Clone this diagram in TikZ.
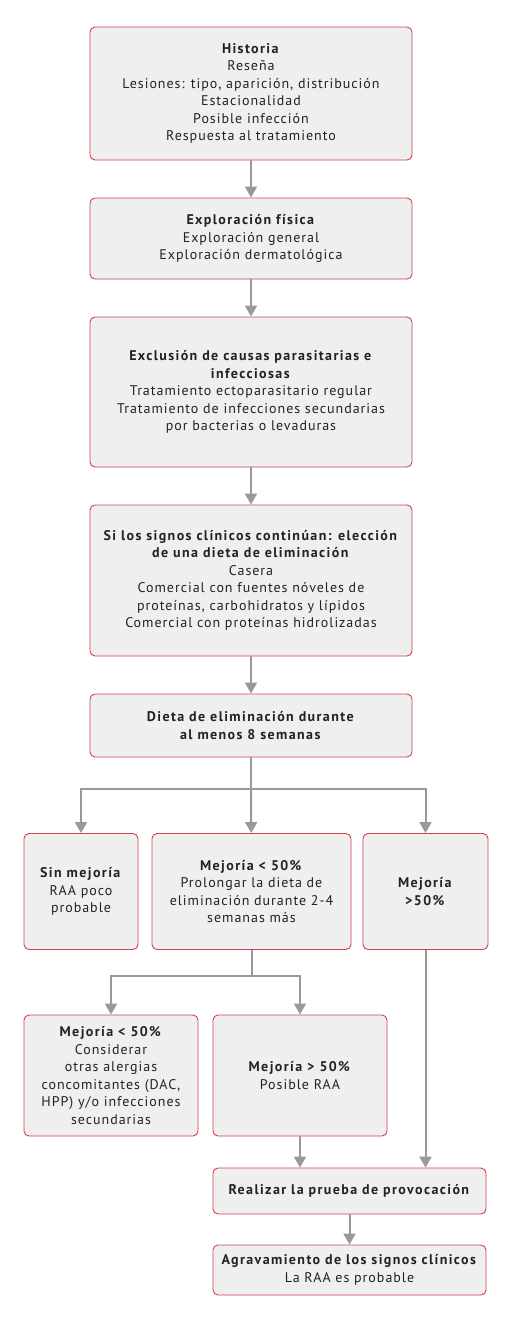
\documentclass[tikz,border=0pt]{standalone}
\usepackage{fontspec}
\setmainfont{PT Sans}[LetterSpace=7,BoldFeatures={LetterSpace=10}]
\usetikzlibrary{arrows.meta}

\definecolor{rojocaja}{HTML}{D2404C}
\definecolor{grisfondo}{HTML}{EFEFEF}
\definecolor{grisflecha}{HTML}{999999}
\definecolor{texto}{HTML}{222222}

\begin{document}
\begin{tikzpicture}[x=1pt,y=-1pt,
  caja/.style={draw=rojocaja, fill=grisfondo, line width=0.9pt, rounded corners=5pt,
    align=center, inner sep=0pt, text=texto,
    font=\fontsize{14}{17.5}\selectfont},
  flecha/.style={draw=grisflecha, line width=2pt, -{Triangle[width=12pt,length=11pt]}},
  linea/.style={draw=grisflecha, line width=2pt}]
  \useasboundingbox (0,0) rectangle (515,1320);

  % Columna central
  \node[caja, minimum width=322pt, minimum height=133pt] (historia) at (251,93.5)
    {\textbf{Historia}\\Reseña\\Lesiones: tipo, aparición, distribución\\Estacionalidad\\Posible infección\\Respuesta al tratamiento};
  \node[caja, minimum width=322pt, minimum height=81pt] (exploracion) at (251,238.5)
    {\textbf{Exploración física}\\Exploración general\\Exploración dermatológica};
  \node[caja, minimum width=322pt, minimum height=150pt] (exclusion) at (251,392)
    {\textbf{Exclusión de causas parasitarias e}\\\textbf{infecciosas}\\Tratamiento ectoparasitario regular\\Tratamiento de infecciones secundarias\\por bacterias o levaduras};
  \node[caja, minimum width=322pt, minimum height=151pt] (eleccion) at (251,580.5)
    {\textbf{Si los signos clínicos continúan: elección}\\\textbf{de una dieta de eliminación}\\Casera\\Comercial con fuentes nóveles de\\proteínas, carbohidratos y lípidos\\Comercial con proteínas hidrolizadas};
  \node[caja, minimum width=322pt, minimum height=63pt] (dieta) at (251,725.5)
    {\textbf{Dieta de eliminación durante}\\\textbf{al menos 8 semanas}};

  % Primera rama
  \node[caja, minimum width=114pt, minimum height=116pt] (sinmejoria) at (81,891.5)
    {\textbf{Sin mejoría}\\RAA poco\\probable};
  \node[caja, minimum width=199pt, minimum height=116pt] (menosa) at (251.5,891.5)
    {\textbf{Mejoría < 50\%}\\Prolongar la dieta de\\eliminación durante 2-4\\semanas más};
  \node[caja, minimum width=125pt, minimum height=116pt] (masa) at (425.5,891.5)
    {\textbf{Mejoría}\\\textbf{>50\%}};

  % Segunda rama
  \node[caja, minimum width=174pt, minimum height=121pt] (menosb) at (111,1075.5)
    {\textbf{Mejoría < 50\%}\\Considerar\\otras alergias\\concomitantes (DAC,\\HPP) y/o infecciones\\secundarias};
  \node[caja, minimum width=174pt, minimum height=121pt] (masb) at (300,1075.5)
    {\textbf{Mejoría > 50\%}\\Posible RAA};

  % Provocación
  \node[caja, minimum width=273pt, minimum height=46pt] (provocacion) at (349.5,1191)
    {\textbf{Realizar la prueba de provocación}};
  \node[caja, minimum width=273pt, minimum height=50pt] (agravamiento) at (349.5,1270)
    {\textbf{Agravamiento de los signos clínicos}\\La RAA es probable};

  % Flechas
  \draw[flecha] (historia) -- (exploracion);
  \draw[flecha] (exploracion) -- (exclusion);
  \draw[flecha] (exclusion) -- (eleccion);
  \draw[flecha] (eleccion) -- (dieta);
  \draw[linea] (dieta.south) -- ++(0,31.5) coordinate (rama);
  \draw[flecha] (rama) -| (sinmejoria);
  \draw[flecha] (rama) -- (menosa);
  \draw[flecha] (rama) -| (masa);
  \draw[linea] (menosa.south) -- ++(0,26) coordinate (ramab);
  \draw[flecha] (ramab) -| (menosb);
  \draw[flecha] (ramab) -| (masb);
  \draw[flecha] (masb) -- (masb |- provocacion.north);
  \draw[flecha] (masa) -- (masa |- provocacion.north);
  \draw[flecha] (provocacion) -- (agravamiento);

\end{tikzpicture}
\end{document}
